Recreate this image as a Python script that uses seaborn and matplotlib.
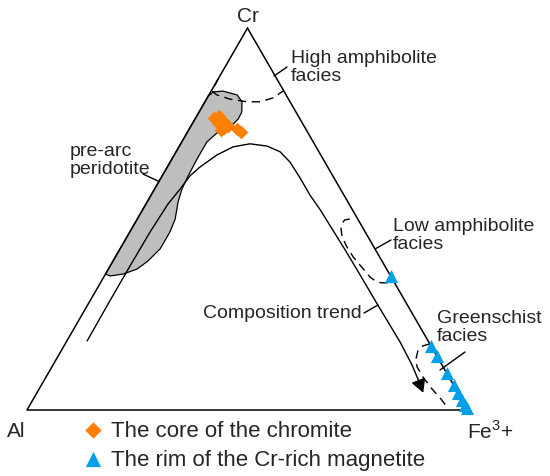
import numpy as np
import matplotlib
matplotlib.use("Agg")
import matplotlib.pyplot as plt
import seaborn as sns

# ternary data in percent: Cr and Fe3+ (Al = 100 - Cr - Fe3+)
core_cr = [76.5, 77.0, 75.2, 75.7, 73.8, 74.4, 73.3, 73.6, 72.8]
core_fe = [4.2, 5.1, 5.7, 6.6, 7.8, 8.4, 7.3, 10.8, 12.1]

rim_cr = [35.1, 16.8, 14.1, 9.7, 6.5, 4.5, 2.6, 1.3, 0.5]
rim_fe = [64.9, 83.2, 85.9, 90.3, 93.5, 95.5, 97.4, 98.7, 99.5]

# composition trend curve
trend_cr = [18.1, 27.8, 37.7, 46.6, 53.9, 57.9, 61.3, 63.6, 66.8, 68.9, 69.7, 69.1,
            67.6, 64.9, 60.8, 56.3, 52.4, 47.1, 41.9, 36.7, 27.0, 17.8, 11.8, 8.1]
trend_fe = [4.6, 4.5, 4.5, 4.6, 5.0, 5.8, 6.3, 7.4, 9.7, 12.3, 15.7, 19.9,
            23.6, 27.2, 31.5, 36.0, 40.3, 45.8, 51.2, 56.5, 66.3, 75.7, 81.4, 84.6]
arrow_tip = (4.5, 87.6)

# pre-arc peridotite field
peri_cr = [82.2, 83.3, 83.5, 82.5, 80.7, 78.0, 76.2, 74.1, 72.5, 70.2, 65.7, 61.3,
           57.9, 54.5, 50.0, 46.6, 42.2, 39.0, 36.9, 35.6, 35.1, 35.6]
peri_fe = [0.0, 0.6, 2.7, 6.4, 8.4, 9.7, 9.8, 9.0, 6.8, 5.7, 5.7, 5.9,
           6.2, 7.0, 8.6, 9.1, 9.1, 7.9, 6.5, 4.0, 1.3, 0.0]

# facies boundaries (dashed)
high_cr = [86.7, 83.5, 82.5, 81.4, 80.7, 80.7, 81.7, 83.5]
high_fe = [0.0, 0.2, 1.8, 5.3, 9.6, 12.5, 14.9, 16.3]
low_cr = [50.0, 49.8, 49.0, 47.4, 45.3, 42.7, 40.1, 37.4, 34.8, 33.5, 33.3, 33.3]
low_fe = [48.2, 47.2, 47.0, 47.5, 48.8, 51.2, 53.9, 57.2, 60.4, 62.6, 63.9, 65.7]
green_cr = [17.3, 16.8, 15.5, 13.4, 11.3, 8.6, 5.5, 2.9, 0.5]
green_fe = [82.7, 81.4, 80.9, 81.5, 82.8, 85.5, 89.1, 92.4, 95.2]

H = np.sqrt(3) / 2


def tern(cr, fe):
    cr = np.asarray(cr, float) / 100
    fe = np.asarray(fe, float) / 100
    return fe + cr / 2, cr * H


def px(x, y):
    # layout helper: picture pixel -> axes data units
    return (x - 27) / 441, (411 - y) / 441


sns.set_style("white")
plt.rcParams["font.family"] = ["Liberation Sans", "DejaVu Sans"]
plt.rcParams["mathtext.fontset"] = "custom"
plt.rcParams["mathtext.rm"] = "Liberation Sans"

fig = plt.figure(figsize=(5.5, 4.77), dpi=100)
ax = fig.add_axes([0, 0, 1, 1])
ax.set_xlim(-27 / 441, 523 / 441)
ax.set_ylim(-66 / 441, 411 / 441)
ax.set_axis_off()

# peridotite field
gx, gy = tern(peri_cr, peri_fe)
ax.fill(gx, gy, facecolor="#BEBEBE", edgecolor="black", lw=0.9, zorder=1)

# triangle frame
tx, ty = tern([100, 0, 0, 100], [0, 0, 100, 0])
ax.plot(tx, ty, color="black", lw=1.1, zorder=3)

# composition trend with arrow
cx, cy = tern(trend_cr, trend_fe)
ax.plot(cx, cy, color="black", lw=1.0, zorder=3)
ax_tip = tern([arrow_tip[0]], [arrow_tip[1]])
ax.annotate("", xy=(ax_tip[0][0], ax_tip[1][0]), xytext=(cx[-1], cy[-1]),
            arrowprops=dict(arrowstyle="-|>,head_length=0.55,head_width=0.3",
                            mutation_scale=15, color="black", lw=1.0,
                            shrinkA=0, shrinkB=0), zorder=3)

# dashed facies fields
for c, f in [(high_cr, high_fe), (low_cr, low_fe), (green_cr, green_fe)]:
    dx, dy = tern(c, f)
    ax.plot(dx, dy, color="black", lw=1.0, ls=(0, (6, 4)), zorder=3)

# data points
ox, oy = tern(core_cr, core_fe)
bx, by = tern(rim_cr, rim_fe)
sns.scatterplot(x=ox, y=oy, marker="D", color="#FF7F00", s=48, linewidth=0,
                label="The core of the chromite", ax=ax, zorder=4)
sns.scatterplot(x=bx, y=by, marker="^", color="#00A0E9", s=90, linewidth=0,
                label="The rim of the Cr-rich magnetite", ax=ax, zorder=4)

# vertex labels
ax.text(*px(248, 16), "Cr", ha="center", va="center", fontsize=15)
ax.text(*px(16, 432), "Al", ha="center", va="center", fontsize=15)
ax.text(*px(467, 432), "Fe$^{3}$+", ha="left", va="center", fontsize=15)

# annotations with leader lines
fs = 14
notes = [
    ("High amphibolite\nfacies", (291, 50), ((274, 77), (287, 68))),
    ("pre-arc\nperidotite", (70, 143), ((143, 175), (158, 182))),
    ("Low amphibolite\nfacies", (393, 218), ((375, 250), (391, 241))),
    ("Greenschist\nfacies", (437, 310), ((440, 371), (465, 353))),
    ("Composition trend", (203, 305), ((364, 314), (378, 306))),
]
for txt, pos, (p0, p1) in notes:
    ax.text(*px(*pos), txt, ha="left", va="top", fontsize=fs, linespacing=1.05)
    x0, y0 = px(*p0)
    x1, y1 = px(*p1)
    ax.plot([x0, x1], [y0, y1], color="black", lw=1.0, zorder=3)

leg = ax.legend(loc="upper left", bbox_to_anchor=(82 / 550, 1 - 421 / 477),
                frameon=False, fontsize=16, handlelength=1.0, handletextpad=0.3,
                labelspacing=0.35, borderpad=0, borderaxespad=0)
for h, s in zip(leg.legend_handles, [70, 120]):
    h.set_sizes([s])

fig.savefig("out.png", dpi=100, facecolor="white")
